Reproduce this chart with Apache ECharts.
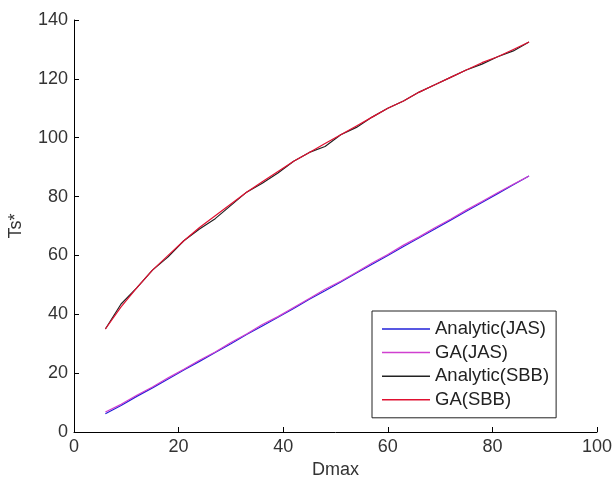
<!DOCTYPE html>
<html>
<head>
<meta charset="utf-8">
<script src="https://cdn.jsdelivr.net/npm/echarts@6/dist/echarts.min.js"></script>
<style>
  html, body { margin: 0; padding: 0; background: #fff; }
  #chart { width: 612px; height: 480px; }
</style>
</head>
<body>
<div id="chart"></div>
<script>
// Dmax sample points
let dmax = [6, 9, 12, 15, 18, 21, 24, 27, 30, 33, 36, 39, 42, 45, 48, 51, 54, 57, 60, 63, 66, 69, 72, 75, 78, 81, 84, 87]
// Ts* values
let analyticJAS = [6.2, 9.0, 12.1, 15.0, 18.0, 21.1, 24.0, 27.0, 30.0, 33.1, 36.0, 39.0, 42.0, 45.1, 48.0, 51.0, 54.0, 57.0, 60.0, 63.0, 66.0, 69.0, 72.0, 75.0, 78.0, 81.0, 84.0, 87.0]
let gaJAS = [6.8, 9.4, 12.5, 15.3, 18.4, 21.3, 24.4, 27.2, 30.4, 33.3, 36.5, 39.2, 42.3, 45.4, 48.5, 51.2, 54.3, 57.4, 60.3, 63.5, 66.3, 69.4, 72.3, 75.4, 78.3, 81.3, 84.2, 87.0]
let analyticSBB = [35.0, 43.5, 49.0, 55.0, 59.5, 65.0, 69.0, 72.5, 77.0, 81.5, 84.5, 88.0, 92.0, 95.0, 97.0, 101.0, 103.5, 107.0, 110.0, 112.5, 115.5, 118.0, 120.5, 123.0, 125.0, 127.5, 129.5, 132.5]
let gaSBB = [35.0, 42.5, 49.0, 55.0, 60.0, 65.0, 69.5, 73.5, 77.5, 81.5, 85.0, 88.5, 92.0, 95.0, 98.0, 101.0, 104.0, 107.0, 110.0, 112.5, 115.5, 118.0, 120.5, 123.0, 125.5, 127.5, 130.0, 132.5]

function pairs (ys) {
  return dmax.map((x, i) => [x, ys[i]])
}

let chart = echarts.init(document.getElementById('chart'))
let font = 'Liberation Sans, Arial'
let axisCommon = {
  min: 0,
  interval: 20,
  splitLine: { show: false },
  axisLine: { onZero: false, lineStyle: { color: '#000', width: 1 } },
  axisTick: { inside: true, length: 5, lineStyle: { color: '#000' } },
  axisLabel: { color: '#333', fontSize: 18, fontFamily: font, margin: 6 },
  nameTextStyle: { color: '#333', fontSize: 18, fontFamily: font }
}
let option = {
  animation: false,
  backgroundColor: '#fff',
  grid: { left: 74, right: 15, top: 20, bottom: 48, outerBoundsMode: 'none' },
  legend: {
    orient: 'vertical',
    left: 372,
    top: 311,
    padding: [8, 7, 8, 10],
    icon: 'rect',
    itemWidth: 48,
    itemHeight: 1.5,
    itemGap: 3.6,
    borderColor: '#222',
    borderWidth: 1,
    backgroundColor: '#fff',
    textStyle: { color: '#222', fontSize: 18.5, lineHeight: 20, fontFamily: font },
    data: ['Analytic(JAS)', 'GA(JAS)', 'Analytic(SBB)', 'GA(SBB)']
  },
  xAxis: Object.assign({}, axisCommon, {
    type: 'value',
    max: 100,
    name: 'Dmax',
    nameLocation: 'middle',
    nameGap: 27
  }),
  yAxis: Object.assign({}, axisCommon, {
    type: 'value',
    max: 140,
    name: 'Ts*',
    nameLocation: 'middle',
    nameGap: 49
  }),
  series: [
    { name: 'Analytic(JAS)', type: 'line', symbol: 'none', data: pairs(analyticJAS), lineStyle: { color: '#2020d8', width: 1.2 }, itemStyle: { color: '#2020d8' } },
    { name: 'GA(JAS)', type: 'line', symbol: 'none', data: pairs(gaJAS), lineStyle: { color: '#d040d0', width: 1.2 }, itemStyle: { color: '#d040d0' } },
    { name: 'Analytic(SBB)', type: 'line', symbol: 'none', data: pairs(analyticSBB), lineStyle: { color: '#222', width: 1.2 }, itemStyle: { color: '#222' } },
    { name: 'GA(SBB)', type: 'line', symbol: 'none', data: pairs(gaSBB), lineStyle: { color: '#e01030', width: 1.2 }, itemStyle: { color: '#e01030' } }
  ]
}
chart.setOption(option)
</script>
</body>
</html>
